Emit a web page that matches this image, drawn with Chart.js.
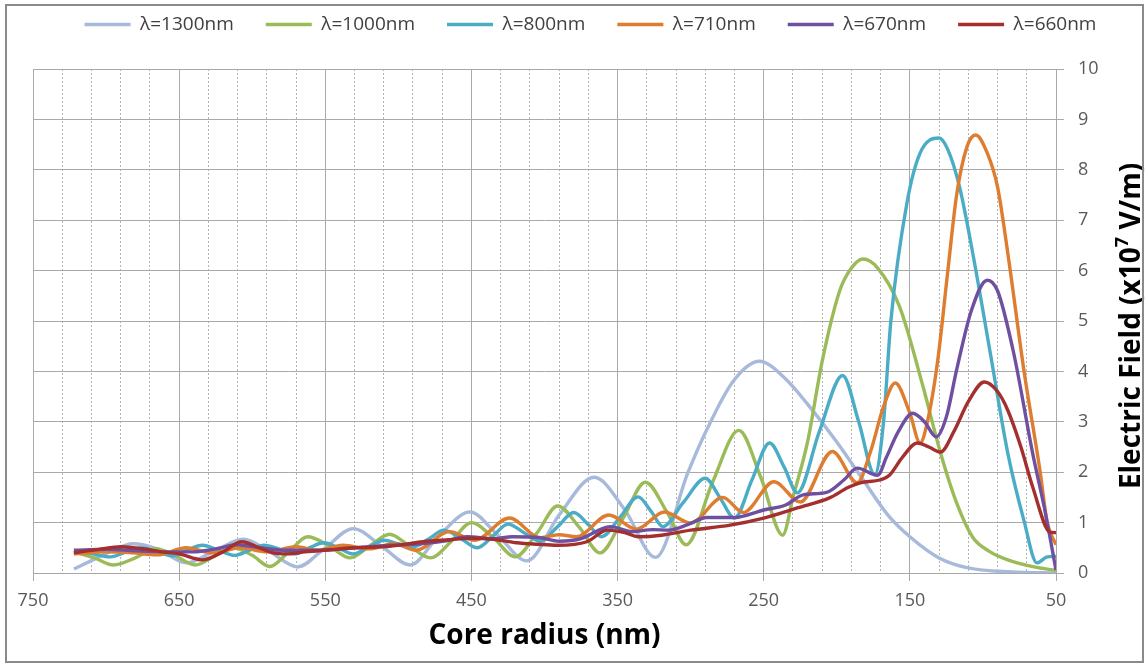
<!DOCTYPE html>
<html>
<head>
<meta charset="utf-8">
<script src="https://cdn.jsdelivr.net/npm/chart.js@4.4.0/dist/chart.umd.min.js"></script>
<style>
  html, body { margin: 0; padding: 0; background: #fff; overflow: hidden; }
  #wrap { position: relative; width: 1148px; height: 664px; }
  #frame { position: absolute; left: 5px; top: 4px; width: 1139px; height: 659px;
           box-sizing: border-box; border: 2px solid #8a8a8a; pointer-events: none; }
</style>
</head>
<body>
<div id="wrap">
  <canvas id="fieldChart" width="1148" height="664"></canvas>
  <div id="frame"></div>
</div>
<script>
// core radius (nm) / electric field (x10^7 V/m)
var r1300 = [722,709,695,682,665,645,625,606,588,569,550,531,511,492,472,451,432,412,390,366,345,324,302,289,271,253,235,220,200,182,165,150,130,110,80,50];
var e1300 = [0.08,0.26,0.45,0.58,0.48,0.2,0.45,0.67,0.42,0.12,0.5,0.88,0.52,0.16,0.75,1.21,0.75,0.24,1.15,1.9,1.25,0.31,1.98,2.84,3.8,4.2,3.85,3.35,2.6,1.85,1.15,0.72,0.3,0.1,0.02,0];

var r1000 = [722,708,695,680,666,653,639,626,613,600,588,575,562,548,533,519,506,493,478,464,450,435,420,405,391,376,362,346,331,316,303,285,267,252,237,230,220,210,198,190,182,172,157,141,129,118,107,95,83,65,50];
var e1000 = [0.42,0.3,0.16,0.3,0.48,0.35,0.16,0.33,0.5,0.35,0.13,0.42,0.72,0.55,0.3,0.55,0.77,0.55,0.3,0.62,1.0,0.7,0.32,0.8,1.33,0.9,0.4,1.1,1.8,1.2,0.56,1.8,2.83,1.9,0.75,1.5,2.6,4.2,5.6,6.05,6.23,6.05,5.28,3.7,2.38,1.39,0.71,0.42,0.26,0.12,0.05];

var r800 = [722,709,697,686,676,665,655,645,634,623,612,602,592,581,571,561,551,541,531,520,510,500,490,479,469,457,446,435,425,414,403,391,380,370,361,348,336,327,319,305,290,280,270,258,246,236,227,212,196,185,174,168,163,152,143,130,124,116,107,95,83,72,63,56,50];
var e800 = [0.45,0.38,0.32,0.42,0.5,0.42,0.34,0.45,0.55,0.45,0.35,0.45,0.55,0.47,0.38,0.5,0.6,0.5,0.38,0.52,0.65,0.58,0.52,0.68,0.85,0.68,0.5,0.74,0.97,0.8,0.63,0.92,1.2,0.96,0.72,1.12,1.51,1.22,0.92,1.4,1.88,1.5,1.09,1.85,2.58,2.1,1.59,2.8,3.92,3.0,1.95,3.0,5.0,7.34,8.33,8.63,8.4,7.66,6.35,4.37,2.38,1.05,0.2,0.32,0.33];

var r710 = [722,700,682,665,645,627,608,590,570,555,538,520,503,488,465,448,424,403,390,378,356,337,318,300,278,264,243,225,203,186,177,168,160,150,143,138,131,124,118,111,105,97,90,83,72,61,56,50];
var e710 = [0.38,0.42,0.4,0.36,0.5,0.4,0.5,0.42,0.52,0.45,0.55,0.48,0.58,0.45,0.82,0.65,1.09,0.7,0.76,0.72,1.15,0.87,1.21,0.99,1.5,1.2,1.81,1.41,2.41,1.79,2.4,3.3,3.77,3.17,2.58,3.0,4.2,6.0,7.5,8.45,8.69,8.33,7.66,6.35,4.03,2.04,1.0,0.56];

var r670 = [722,700,680,660,640,625,610,595,575,555,530,505,485,465,453,435,422,403,390,375,362,355,340,326,315,302,289,270,250,235,223,207,195,186,172,166,158,148,140,132,125,118,108,97,90,79,66,58,50];
var e670 = [0.45,0.47,0.44,0.42,0.42,0.48,0.56,0.5,0.45,0.45,0.5,0.55,0.58,0.65,0.72,0.68,0.72,0.7,0.63,0.68,0.86,0.92,0.82,0.86,0.85,0.96,1.1,1.1,1.25,1.35,1.55,1.6,1.85,2.08,1.94,2.3,2.8,3.17,3.0,2.7,3.1,4.03,5.2,5.81,5.6,4.37,2.38,1.3,0.06];

var r660 = [722,705,690,675,662,650,634,620,607,595,586,575,564,547,530,506,483,465,451,435,419,405,391,371,357,345,336,320,300,273,250,227,205,192,184,170,164,155,145,137,129,120,110,99,90,83,74,66,54,50];
var e660 = [0.4,0.47,0.52,0.48,0.42,0.38,0.26,0.42,0.62,0.5,0.4,0.38,0.42,0.46,0.5,0.53,0.62,0.66,0.69,0.67,0.6,0.57,0.55,0.62,0.85,0.8,0.72,0.75,0.85,0.95,1.09,1.29,1.49,1.7,1.79,1.85,1.94,2.3,2.58,2.5,2.4,2.8,3.4,3.79,3.6,3.23,2.5,1.71,0.81,0.8];

var seriesLabels = ["λ=1300nm", "λ=1000nm", "λ=800nm", "λ=710nm", "λ=670nm", "λ=660nm"];
var seriesRadii = [r1300, r1000, r800, r710, r670, r660];
var seriesField = [e1300, e1000, e800, e710, e670, e660];
var colors = ["#a7badb", "#9bbb59", "#4bacc6", "#de7c2f", "#6f50a0", "#a3302f"];

var gridGray = "#a9a9a9";

function isMajor(v) {
  return Math.round(v - 50) % 100 === 0;
}

var datasets = seriesLabels.map(function (label, i) {
  return {
    label: label,
    data: seriesRadii[i].map(function (r, j) { return { x: r, y: seriesField[i][j] }; }),
    borderColor: colors[i],
    backgroundColor: colors[i],
    borderWidth: 3.4,
    pointRadius: 0,
    cubicInterpolationMode: "monotone",
    order: seriesLabels.length - i,
  };
});

// legend gets the whole band above the plot
var legendSpace = {
  id: "legendSpace",
  beforeInit: function (chart) {
    var fit = chart.legend.fit;
    chart.legend.fit = function () {
      fit.call(this);
      this.height = 86;
    };
  },
};

// y title on the right, reading bottom to top, with a superscript 7
var yTitle = {
  id: "yTitle",
  afterDraw: function (chart) {
    var ctx = chart.ctx;
    var big = "bold 28px 'Open Sans'";
    var small = "bold 18px 'Open Sans'";
    var a = "Electric Field (x10", b = "7", c = " V/m)";
    ctx.save();
    ctx.font = big;
    var wa = ctx.measureText(a).width, wc = ctx.measureText(c).width;
    ctx.font = small;
    var wb = ctx.measureText(b).width;
    var total = wa + wb + wc;
    ctx.translate(1140, 326);
    ctx.rotate(-Math.PI / 2);
    ctx.fillStyle = "#000";
    ctx.textBaseline = "alphabetic";
    ctx.textAlign = "left";
    var x = -total / 2;
    ctx.font = big;
    ctx.fillText(a, x, 0);
    ctx.font = small;
    ctx.fillText(b, x + wa, -12);
    ctx.font = big;
    ctx.fillText(c, x + wa + wb, 0);
    ctx.restore();
  },
};

Chart.defaults.font.family = "'Open Sans', sans-serif";

new Chart(document.getElementById("fieldChart"), {
  type: "line",
  data: { datasets: datasets },
  options: {
    responsive: false,
    animation: false,
    layout: { padding: { left: 33, right: 0, top: -17, bottom: 0 } },
    plugins: {
      legend: {
        position: "top",
        labels: {
          usePointStyle: true,
          pointStyle: "line",
          pointStyleWidth: 46,
          padding: 32,
          color: "#404040",
          font: { size: 19 },
          sort: function (a, b) { return a.datasetIndex - b.datasetIndex; },
        },
      },
      tooltip: { enabled: false },
    },
    scales: {
      x: {
        type: "linear",
        reverse: true,
        min: 50,
        max: 750,
        afterBuildTicks: function (scale) {
          var t = [];
          for (var v = 50; v <= 750; v += 20) t.push({ value: v });
          scale.ticks = t;
        },
        afterFit: function (scale) { scale.height = 91; },
        ticks: {
          autoSkip: false,
          maxRotation: 0,
          padding: 9,
          color: "#595959",
          font: { size: 18 },
          callback: function (v) { return isMajor(v) ? String(v) : ""; },
        },
        grid: {
          color: function (ctx) { return isMajor(ctx.tick.value) ? gridGray : "#b4b4b4"; },
          lineWidth: 1,
          tickLength: 8,
          tickColor: function (ctx) { return isMajor(ctx.tick.value) ? gridGray : "rgba(0,0,0,0)"; },
        },
        border: {
          color: gridGray,
          dash: function (ctx) { return ctx.tick && !isMajor(ctx.tick.value) ? [2, 2] : []; },
        },
        title: {
          display: true,
          text: "Core radius (nm)",
          color: "#000",
          font: { size: 28, weight: "bold" },
          padding: { top: 0, bottom: 11 },
        },
      },
      y: {
        position: "right",
        min: 0,
        max: 10,
        afterFit: function (scale) { scale.width = 92; },
        ticks: {
          stepSize: 1,
          padding: 14,
          color: "#595959",
          font: { size: 18 },
        },
        grid: { color: gridGray, lineWidth: 1, tickLength: 8, tickColor: gridGray },
        border: { color: gridGray },
      },
    },
  },
  plugins: [legendSpace, yTitle],
});
</script>
</body>
</html>
